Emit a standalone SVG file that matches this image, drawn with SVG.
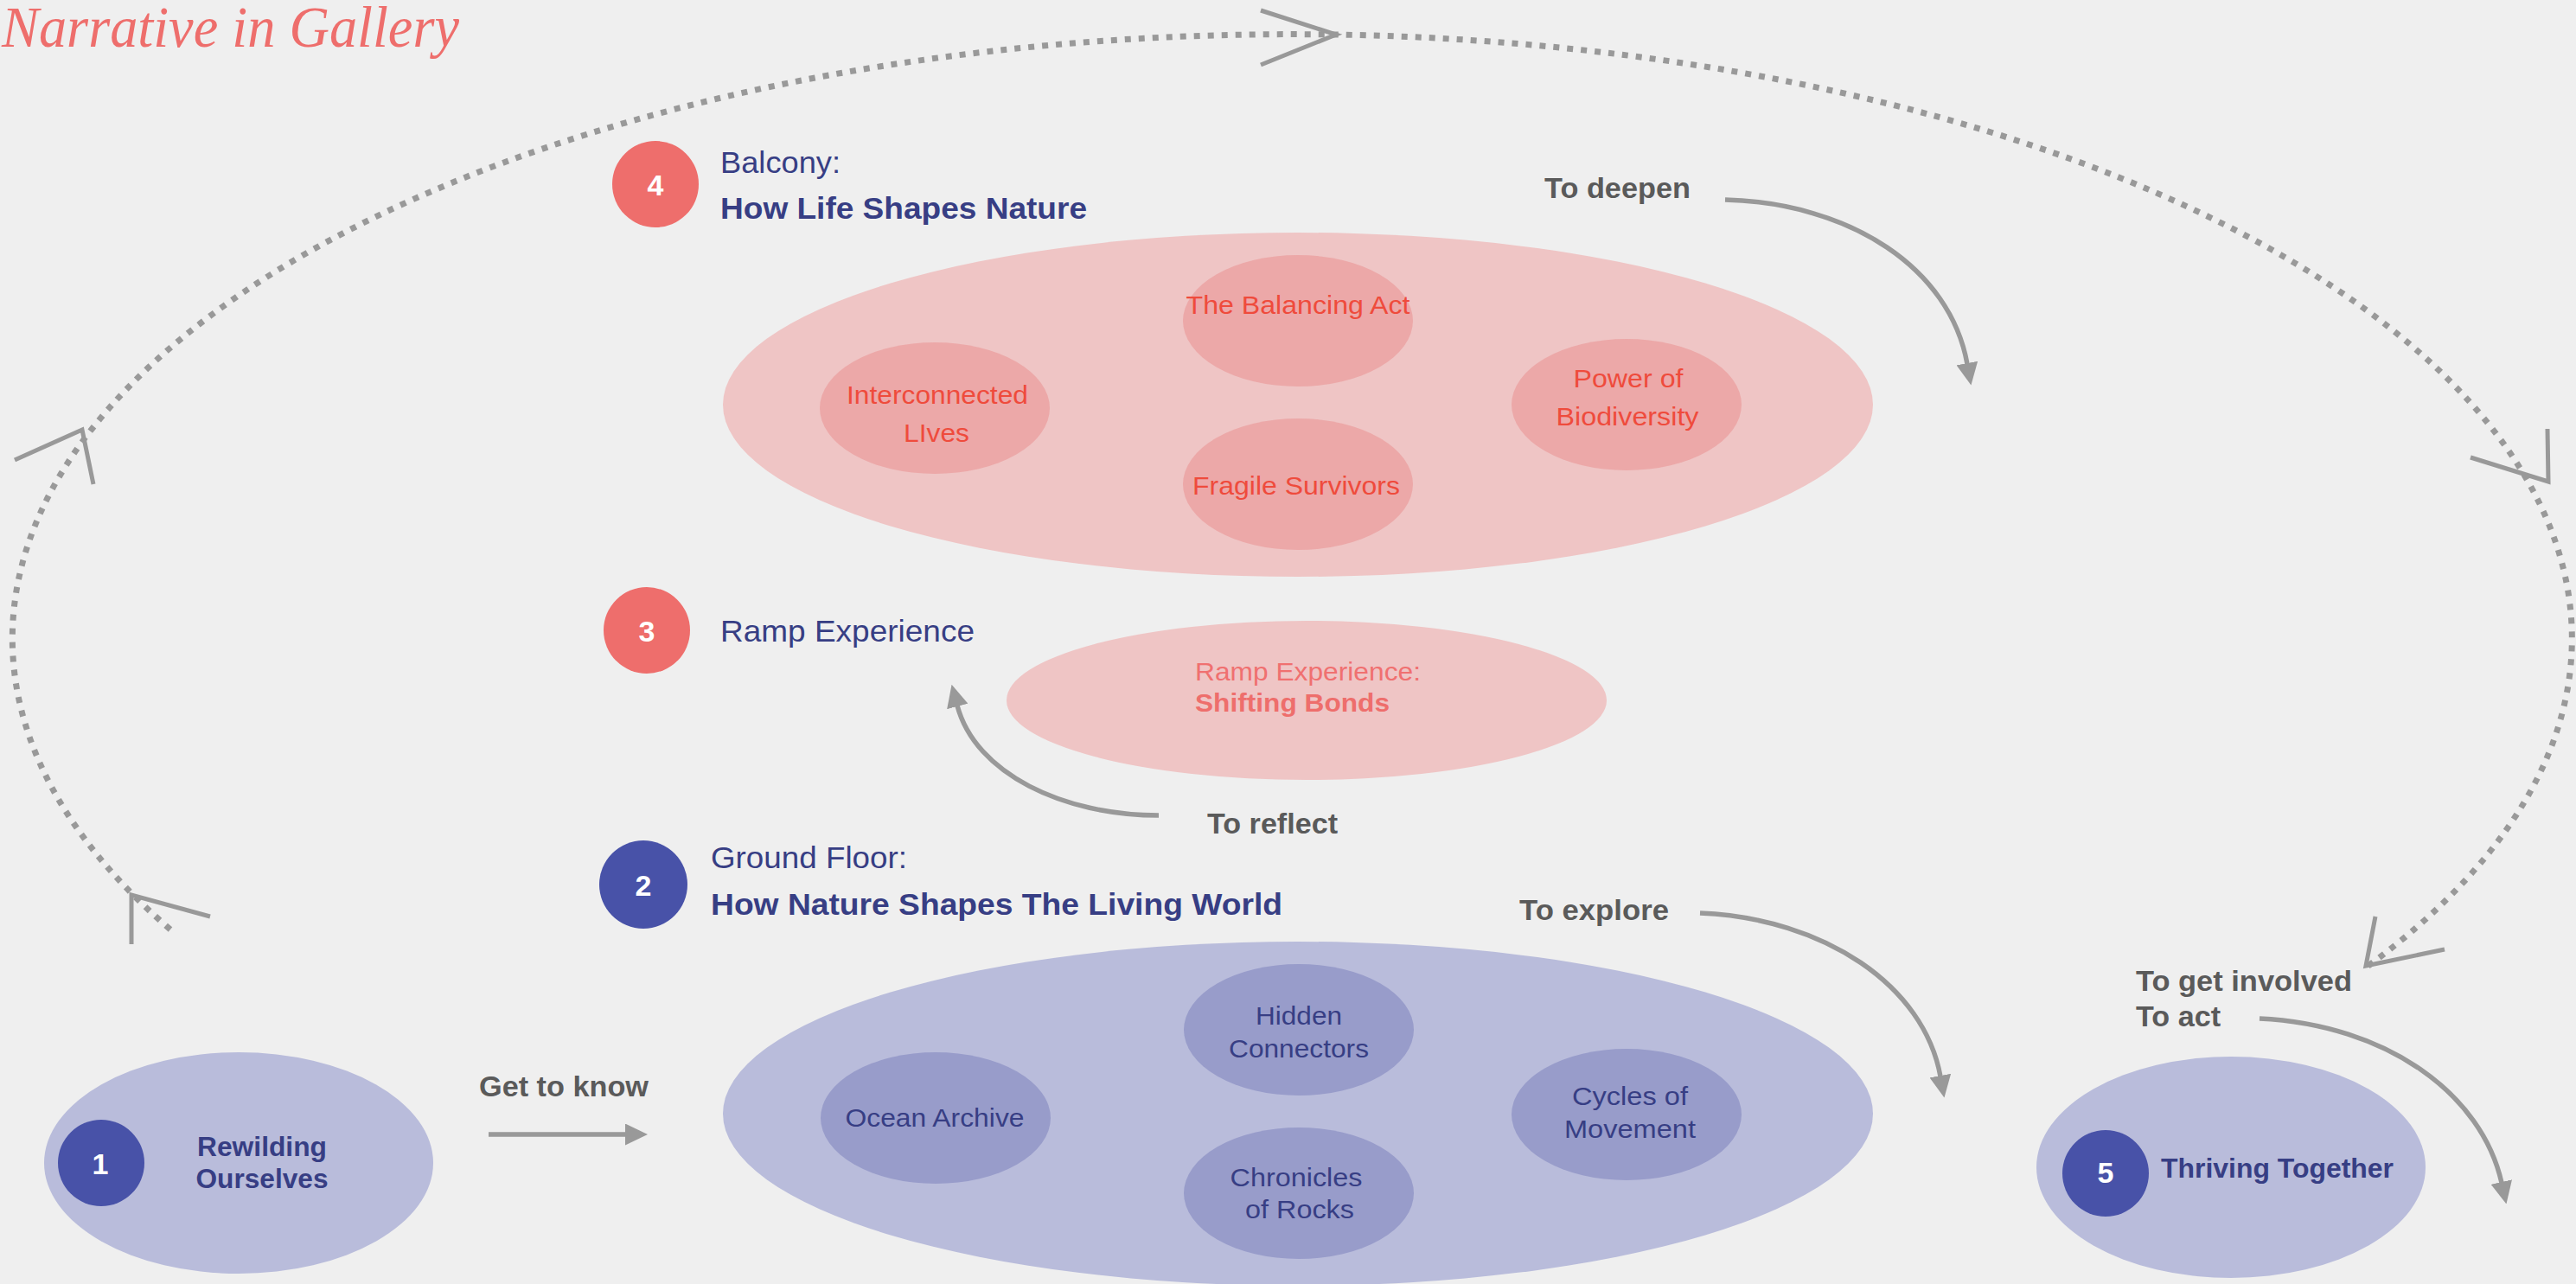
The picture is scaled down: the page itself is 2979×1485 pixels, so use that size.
<svg xmlns="http://www.w3.org/2000/svg" width="2979" height="1485" viewBox="0 0 2979 1485">
<defs>
<style>
.t{font-family:"Liberation Sans",Arial,Helvetica,sans-serif}
.gray{fill:#5a5a5a;font-weight:bold;font-size:33px}
.num{fill:#ffffff;font-weight:bold;font-size:34px;text-anchor:middle}
.head{fill:#373e84;font-size:35px}
.headb{fill:#373e84;font-size:35px;font-weight:bold}
.inr{fill:#ef4b3c;font-size:30px;text-anchor:middle}
.inb{fill:#373e84;font-size:30px;text-anchor:middle}
.pk-o{fill:#efc5c5}
.pk-i{fill:#eca8a8}
.bl-o{fill:#b9bcdb}
.bl-i{fill:#989cca}
.c-red{fill:#ee6e6c}
.c-blue{fill:#4852a8}
.conn{stroke:#999999;stroke-width:5.5;fill:none}
.dot{stroke:#999999;stroke-width:7;fill:none;stroke-dasharray:7 9}
.chev{stroke:#999999;stroke-width:5;fill:none}
</style>
<marker id="ah" viewBox="0 0 26 25" refX="1" refY="12.5" markerWidth="26" markerHeight="25" orient="auto" markerUnits="userSpaceOnUse">
<path d="M0,0 L26,12.5 L0,25 z" fill="#999999"/>
</marker>
</defs>
<rect x="0" y="0" width="2979" height="1485" fill="#efefef"/>

<text id="title" x="2" y="54" font-family="'Liberation Serif','Times New Roman',serif" font-style="italic" font-size="68" fill="#ee6e6c" textLength="529" lengthAdjust="spacingAndGlyphs">Narrative in Gallery</text>

<g id="connectors">
<path class="dot" d="M197,1075 A1480,699 0 1 1 2736,1119"/>
<polyline class="chev" points="152,1092 152,1035 243,1060"/>
<polyline class="chev" points="17,532 95,497 108,560"/>
<polyline class="chev" points="1458,12 1545,40 1458,75"/>
<polyline class="chev" points="2857,529 2947,557 2946,496"/>
<polyline class="chev" points="2747,1060 2736,1117 2827,1098"/>
<path class="conn" marker-end="url(#ah)" d="M565,1312 L724,1312"/>
<path class="conn" marker-end="url(#ah)" d="M1340,943 C1230,943 1128,895 1107,816"/>
<path class="conn" marker-end="url(#ah)" d="M1995,231 C2140,235 2255,310 2275,421"/>
<path class="conn" marker-end="url(#ah)" d="M1966,1056 C2110,1062 2225,1140 2244,1245"/>
<path class="conn" marker-end="url(#ah)" d="M2613,1178 C2760,1185 2870,1265 2893,1368"/>
<text class="t gray" x="554" y="1268" textLength="196" lengthAdjust="spacingAndGlyphs">Get to know</text>
<text class="t gray" x="1396" y="964" textLength="151" lengthAdjust="spacingAndGlyphs">To reflect</text>
<text class="t gray" x="1786" y="229" textLength="169" lengthAdjust="spacingAndGlyphs">To deepen</text>
<text class="t gray" x="1757" y="1064" textLength="173" lengthAdjust="spacingAndGlyphs">To explore</text>
<text class="t gray" x="2470" y="1146" textLength="250" lengthAdjust="spacingAndGlyphs">To get involved</text>
<text class="t gray" x="2470" y="1187" textLength="98" lengthAdjust="spacingAndGlyphs">To act</text>
</g>

<g id="node-balcony">
<ellipse class="pk-o" cx="1501" cy="468" rx="665" ry="199"/>
<circle class="c-red" cx="758" cy="213" r="50"/>
<text class="t num" x="758" y="226">4</text>
<text class="t head" x="833" y="200" textLength="139" lengthAdjust="spacingAndGlyphs">Balcony:</text>
<text class="t headb" x="833" y="253" textLength="424" lengthAdjust="spacingAndGlyphs">How Life Shapes Nature</text>
</g>
<g id="node-balancing-act">
<ellipse class="pk-i" cx="1501" cy="371" rx="133" ry="76"/>
<text class="t inr" x="1501" y="363" textLength="259" lengthAdjust="spacingAndGlyphs">The Balancing Act</text>
</g>
<g id="node-interconnected-lives">
<ellipse class="pk-i" cx="1081" cy="472" rx="133" ry="76"/>
<text class="t inr" x="1084" y="467" textLength="210" lengthAdjust="spacingAndGlyphs">Interconnected</text>
<text class="t inr" x="1083" y="511" textLength="76" lengthAdjust="spacingAndGlyphs">LIves</text>
</g>
<g id="node-fragile-survivors">
<ellipse class="pk-i" cx="1501" cy="560" rx="133" ry="76"/>
<text class="t inr" x="1499" y="572" textLength="240" lengthAdjust="spacingAndGlyphs">Fragile Survivors</text>
</g>
<g id="node-power-of-biodiversity">
<ellipse class="pk-i" cx="1881" cy="468" rx="133" ry="76"/>
<text class="t inr" x="1883" y="448" textLength="127" lengthAdjust="spacingAndGlyphs">Power of</text>
<text class="t inr" x="1882" y="492" textLength="165" lengthAdjust="spacingAndGlyphs">Biodiversity</text>
</g>

<g id="node-ramp">
<circle class="c-red" cx="748" cy="729" r="50"/>
<text class="t num" x="748" y="742">3</text>
<text class="t head" x="833" y="742" textLength="294" lengthAdjust="spacingAndGlyphs">Ramp Experience</text>
</g>
<g id="node-shifting-bonds">
<ellipse class="pk-o" cx="1511" cy="810" rx="347" ry="92"/>
<text class="t" x="1382" y="787" font-size="30" fill="#f07070" textLength="261" lengthAdjust="spacingAndGlyphs">Ramp Experience:</text>
<text class="t" x="1382" y="823" font-size="30" font-weight="bold" fill="#ee6e6c" textLength="225" lengthAdjust="spacingAndGlyphs">Shifting Bonds</text>
</g>

<g id="node-ground-floor">
<ellipse class="bl-o" cx="1501" cy="1288" rx="665" ry="199"/>
<circle class="c-blue" cx="744" cy="1023" r="51"/>
<text class="t num" x="744" y="1036">2</text>
<text class="t head" x="822" y="1004" textLength="227" lengthAdjust="spacingAndGlyphs">Ground Floor:</text>
<text class="t headb" x="822" y="1058" textLength="661" lengthAdjust="spacingAndGlyphs">How Nature Shapes The Living World</text>
</g>
<g id="node-hidden-connectors">
<ellipse class="bl-i" cx="1502" cy="1191" rx="133" ry="76"/>
<text class="t inb" x="1502" y="1185" textLength="100" lengthAdjust="spacingAndGlyphs">Hidden</text>
<text class="t inb" x="1502" y="1223" textLength="162" lengthAdjust="spacingAndGlyphs">Connectors</text>
</g>
<g id="node-ocean-archive">
<ellipse class="bl-i" cx="1082" cy="1293" rx="133" ry="76"/>
<text class="t inb" x="1081" y="1303" textLength="207" lengthAdjust="spacingAndGlyphs">Ocean Archive</text>
</g>
<g id="node-cycles-of-movement">
<ellipse class="bl-i" cx="1881" cy="1289" rx="133" ry="76"/>
<text class="t inb" x="1885" y="1278" textLength="134" lengthAdjust="spacingAndGlyphs">Cycles of</text>
<text class="t inb" x="1885" y="1316" textLength="152" lengthAdjust="spacingAndGlyphs">Movement</text>
</g>
<g id="node-chronicles-of-rocks">
<ellipse class="bl-i" cx="1502" cy="1380" rx="133" ry="76"/>
<text class="t inb" x="1499" y="1372" textLength="153" lengthAdjust="spacingAndGlyphs">Chronicles</text>
<text class="t inb" x="1503" y="1409" textLength="126" lengthAdjust="spacingAndGlyphs">of Rocks</text>
</g>

<g id="node-rewilding">
<ellipse class="bl-o" cx="276" cy="1345" rx="225" ry="128"/>
<circle class="c-blue" cx="117" cy="1345" r="50"/>
<text class="t num" x="116" y="1358">1</text>
<text class="t headb" x="303" y="1337" text-anchor="middle" textLength="150" lengthAdjust="spacingAndGlyphs" style="font-size:31px">Rewilding</text>
<text class="t headb" x="303" y="1374" text-anchor="middle" textLength="153" lengthAdjust="spacingAndGlyphs" style="font-size:31px">Ourselves</text>
</g>

<g id="node-thriving">
<ellipse class="bl-o" cx="2580" cy="1350" rx="225" ry="128"/>
<circle class="c-blue" cx="2435" cy="1357" r="50"/>
<text class="t num" x="2435" y="1368">5</text>
<text class="t headb" x="2499" y="1362" textLength="269" lengthAdjust="spacingAndGlyphs" style="font-size:31px">Thriving Together</text>
</g>
</svg>
